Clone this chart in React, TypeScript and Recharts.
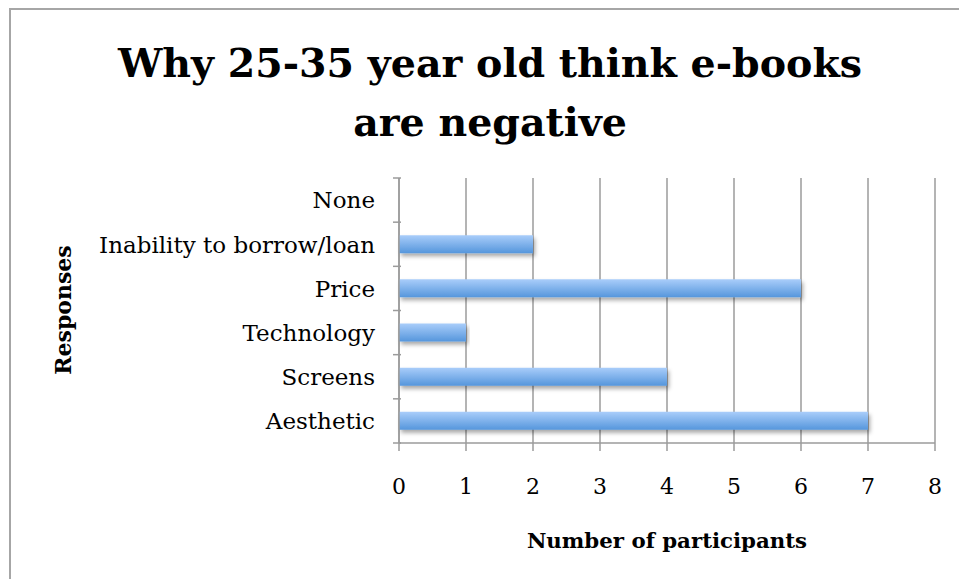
import { BarChart, Bar, XAxis, YAxis, CartesianGrid } from "recharts";

const responses = [
  "None",
  "Inability to borrow/loan",
  "Price",
  "Technology",
  "Screens",
  "Aesthetic",
];
const participants = [0, 2, 6, 1, 4, 7];
const xTicks = [0, 1, 2, 3, 4, 5, 6, 7, 8];

const data = responses.map((r, i) => ({ response: r, count: participants[i] }));

const FONT = "'DejaVu Serif', serif";
const GRID = "#9b9b9b";

// category tick: label at band centre, tick mark at band edges
function CategoryTick(props: any) {
  const { x, y, payload, index } = props;
  const half = payload?.offset ?? 22;
  return (
    <g>
      <line x1={x + 2} x2={x + 10} y1={y - half} y2={y - half} stroke={GRID} strokeWidth={1.5} />
      {index === responses.length - 1 && (
        <line x1={x + 2} x2={x + 10} y1={y + half} y2={y + half} stroke={GRID} strokeWidth={1.5} />
      )}
      <text x={x - 16} y={y} dy="0.36em" textAnchor="end" fontFamily={FONT} fontSize={23} fill="#000">
        {payload.value}
      </text>
    </g>
  );
}

export default function App() {
  return (
    <div style={{ position: "absolute", left: 0, top: 0, width: 959, height: 579, background: "#fff" }}>
      <div
        style={{
          position: "absolute",
          left: 9,
          top: 8,
          width: 960,
          height: 580,
          border: "2px solid #a6a6a6",
        }}
      />
      <div
        style={{
          position: "absolute",
          left: 0,
          width: 980,
          top: 34,
          textAlign: "center",
          fontFamily: FONT,
          fontWeight: "bold",
          fontSize: 39.5,
          lineHeight: "59px",
        }}
      >
        Why 25-35 year old think e-books
        <br />
        are negative
      </div>
      <div
        style={{
          position: "absolute",
          left: 63,
          top: 310,
          transform: "translate(-50%, -50%) rotate(-90deg)",
          fontFamily: FONT,
          fontWeight: "bold",
          fontSize: 22,
          whiteSpace: "nowrap",
        }}
      >
        Responses
      </div>
      <div
        style={{
          position: "absolute",
          left: 667,
          top: 540,
          transform: "translate(-50%, -50%)",
          fontFamily: FONT,
          fontWeight: "bold",
          fontSize: 21.3,
          whiteSpace: "nowrap",
        }}
      >
        Number of participants
      </div>
      <div style={{ position: "absolute", left: 0, top: 0 }}>
        <BarChart
          width={959}
          height={579}
          data={data}
          layout="vertical"
          margin={{ top: 178, right: 24, bottom: 76, left: 69 }}
          barCategoryGap={13}
        >
          <defs>
            <linearGradient id="barGrad" x1="0" y1="0" x2="0" y2="1">
              <stop offset="0%" stopColor="#a9cdfa" />
              <stop offset="100%" stopColor="#5596dc" />
            </linearGradient>
            <filter id="barShadow" x="-5%" y="-50%" width="110%" height="220%">
              <feDropShadow dx="2" dy="3" stdDeviation="2" floodColor="#000" floodOpacity="0.35" />
            </filter>
          </defs>
          <CartesianGrid horizontal={false} stroke={GRID} strokeWidth={1.5} />
          <XAxis
            type="number"
            domain={[0, 8]}
            ticks={xTicks}
            height={60}
            tickSize={8}
            tickMargin={27}
            stroke={GRID}
            axisLine={{ stroke: GRID, strokeWidth: 1.5 }}
            tickLine={{ stroke: GRID, strokeWidth: 1.5 }}
            tick={{ fontFamily: FONT, fontSize: 22, fill: "#000" }}
            interval={0}
          />
          <YAxis
            type="category"
            dataKey="response"
            width={330}
            axisLine={{ stroke: GRID, strokeWidth: 1.5 }}
            tickLine={false}
            tick={<CategoryTick />}
            interval={0}
          />
          <Bar
            dataKey="count"
            fill="url(#barGrad)"
            filter="url(#barShadow)"
            isAnimationActive={false}
          />
        </BarChart>
      </div>
    </div>
  );
}
